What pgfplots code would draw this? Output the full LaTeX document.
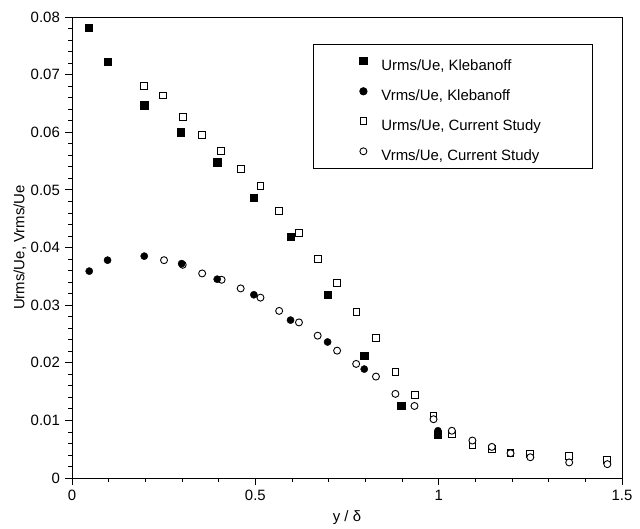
\documentclass[border=0pt]{standalone}
\usepackage{fontspec}
\setmainfont{Liberation Sans}
\usepackage{pgfplots}
\pgfplotsset{compat=1.18}
\begin{document}
\fontsize{15}{18}\selectfont
\begin{tikzpicture}
\useasboundingbox (0,0) rectangle (640bp,529bp);
\begin{axis}[
  at={(72bp,51bp)}, anchor=south west,
  scale only axis, width=550bp, height=461bp,
  xmin=0, xmax=1.5, ymin=0, ymax=0.08,
  xtick={0,0.5,1,1.5}, minor x tick num=4,
  ytick={0,0.01,0.02,0.03,0.04,0.05,0.06,0.07,0.08}, minor y tick num=4,
  tick align=outside, xtick pos=bottom, ytick pos=left,
  major tick length=7bp, minor tick length=4bp,
  axis line style={line width=1bp}, tick style={line width=0.8bp, black},
  scaled ticks=false,
  /pgf/number format/assume math mode=true,
  yticklabel style={/pgf/number format/fixed, /pgf/number format/precision=2},
  xticklabel style={/pgf/number format/fixed},
  ticklabel style={font=\fontsize{15}{18}\selectfont},
  xlabel={y / δ}, ylabel={Urms/Ue, Vrms/Ue},
  label style={font=\fontsize{15}{18}\selectfont},
  xlabel style={at={(axis description cs:0.5,-0.0868)}, anchor=center},
  ylabel style={at={(axis description cs:-0.0945,0.5)}, anchor=center},
  legend image code/.code={\path[draw=none,fill=none] (0bp,-10bp) rectangle (66bp,20bp);
     \draw[mark repeat=2,mark phase=2,#1] plot coordinates {(49bp,5bp)(50bp,5bp)(51bp,5bp)};},
  legend style={at={(axis cs:0.657,0.07535)}, anchor=north west, draw=black, line width=1bp,
    inner xsep=0bp, inner ysep=2bp, row sep=0bp, column sep=0bp,
    font=\fontsize{15}{18}\selectfont},
  legend cell align=left,
]
% open markers first
\addplot[only marks, mark=square*, mark size=3.4bp, mark options={fill=white, draw=black, line width=0.9bp}, forget plot] coordinates {
(0.197,0.0681) (0.249,0.0664) (0.302,0.0627) (0.354,0.0595) (0.406,0.0567)
(0.460,0.0536) (0.514,0.0507) (0.565,0.0464) (0.618,0.0425) (0.670,0.0380)
(0.722,0.0339) (0.776,0.0288) (0.829,0.0243) (0.882,0.0184) (0.935,0.0144)
(0.986,0.0108) (1.036,0.0076) (1.092,0.0057) (1.145,0.0050) (1.196,0.0043)
(1.250,0.0042) (1.356,0.0038) (1.460,0.0032)};
\addplot[only marks, mark=*, mark size=3.5bp, mark options={fill=white, draw=black, line width=0.9bp}, forget plot] coordinates {
(0.251,0.0378) (0.302,0.0370) (0.355,0.0355) (0.408,0.0344) (0.460,0.0329)
(0.514,0.0313) (0.565,0.0290) (0.619,0.0270) (0.670,0.0247) (0.723,0.0221)
(0.775,0.0198) (0.829,0.0176) (0.882,0.0146) (0.934,0.0125) (0.986,0.0102)
(1.036,0.0082) (1.092,0.0065) (1.145,0.0054) (1.196,0.0043) (1.250,0.0036)
(1.356,0.0027) (1.460,0.0024)};
% filled Klebanoff
\addplot[only marks, mark=square*, mark size=3.6bp, mark options={fill=black, draw=black}] coordinates {
(0.046,0.0782) (0.097,0.0722) (0.197,0.0647) (0.297,0.0600) (0.396,0.0548)
(0.496,0.0487) (0.596,0.0419) (0.697,0.0318) (0.797,0.0212) (0.898,0.0126)
(0.998,0.0075)};
\addlegendentry{Urms/Ue, Klebanoff}
\addplot[only marks, mark=*, mark size=3.6bp, mark options={fill=black, draw=black}] coordinates {
(0.047,0.0359) (0.097,0.0378) (0.197,0.0385) (0.299,0.0372) (0.396,0.0345)
(0.496,0.0318) (0.596,0.0274) (0.697,0.0236) (0.797,0.0189) (0.998,0.0082)};
\addlegendentry{Vrms/Ue, Klebanoff}
\addlegendimage{only marks, mark=square*, mark size=3.4bp, mark options={fill=white, draw=black, line width=0.9bp}}
\addlegendentry{Urms/Ue, Current Study\hspace*{50bp}}
\addlegendimage{only marks, mark=*, mark size=3.5bp, mark options={fill=white, draw=black, line width=0.9bp}}
\addlegendentry{Vrms/Ue, Current Study\hspace*{50bp}}
\end{axis}
\end{tikzpicture}
\end{document}
